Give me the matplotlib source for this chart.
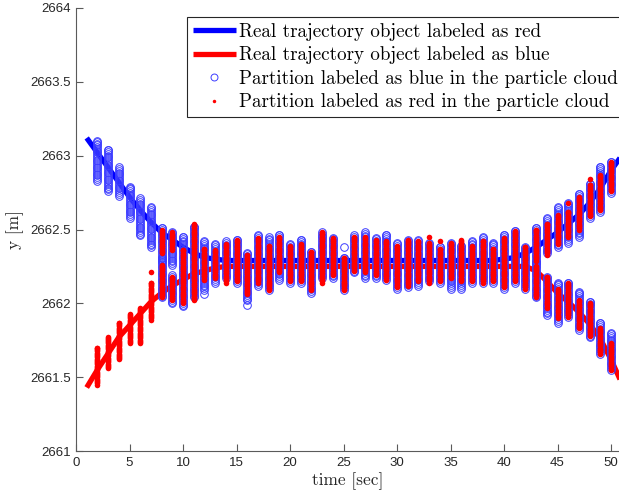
import matplotlib
matplotlib.use('Agg')
import matplotlib.pyplot as plt
import numpy as np

# ---------------- data ----------------
traj_t = list(range(1, 52))
blue_traj = [2663.12, 2663.02, 2662.92, 2662.82, 2662.72, 2662.63, 2662.55, 2662.48,
             2662.43, 2662.38, 2662.34, 2662.31, 2662.30] + [2662.29] * 26 + \
            [2662.30, 2662.31, 2662.34, 2662.38, 2662.43, 2662.48, 2662.54, 2662.60,
             2662.68, 2662.78, 2662.90, 2663.00]
red_traj = [2661.43, 2661.55, 2661.66, 2661.77, 2661.85, 2661.93, 2662.01, 2662.07,
            2662.12, 2662.16, 2662.20, 2662.22, 2662.24] + [2662.25] * 26 + \
           [2662.25, 2662.25, 2662.25, 2662.22, 2662.15, 2662.07, 2662.01, 2661.94,
            2661.86, 2661.76, 2661.62, 2661.46]

cloud_t = list(range(2, 51))
# vertical extents (lo, hi) of the particle columns at each time step
blue_clouds = [
    [(2662.83, 2663.10)], [(2662.76, 2663.04)], [(2662.73, 2662.92)], [(2662.58, 2662.79)],
    [(2662.46, 2662.71)], [(2662.38, 2662.65)],
    [(2662.28, 2662.51), (2662.04, 2662.31)], [(2662.26, 2662.48), (2662.00, 2662.19)],
    [(2661.98, 2662.45)], [(2662.04, 2662.52)], [(2662.09, 2662.42)], [(2662.14, 2662.40)],
    [(2662.17, 2662.42)], [(2662.14, 2662.43)], [(2662.02, 2662.34)], [(2662.12, 2662.46)],
    [(2662.09, 2662.45)], [(2662.16, 2662.46)], [(2662.14, 2662.40)], [(2662.14, 2662.43)],
    [(2662.07, 2662.35)], [(2662.17, 2662.48)], [(2662.17, 2662.44)], [(2662.09, 2662.31)],
    [(2662.21, 2662.46)], [(2662.17, 2662.48)], [(2662.17, 2662.44)], [(2662.16, 2662.46)],
    [(2662.10, 2662.41)], [(2662.11, 2662.43)], [(2662.12, 2662.43)], [(2662.15, 2662.41)],
    [(2662.14, 2662.38)], [(2662.10, 2662.41)], [(2662.10, 2662.39)], [(2662.14, 2662.42)],
    [(2662.14, 2662.45)], [(2662.14, 2662.41)], [(2662.10, 2662.46)], [(2662.14, 2662.49)],
    [(2662.10, 2662.38)],
    [(2662.27, 2662.51), (2662.04, 2662.28)], [(2662.34, 2662.58), (2661.92, 2662.18)],
    [(2662.38, 2662.65), (2661.87, 2662.14)], [(2662.41, 2662.68), (2661.91, 2662.14)],
    [(2662.45, 2662.74), (2661.82, 2662.08)], [(2662.58, 2662.81), (2661.77, 2662.01)],
    [(2662.62, 2662.92), (2661.66, 2661.87)], [(2662.75, 2662.96), (2661.55, 2661.80)],
]
red_clouds = [
    [(2661.45, 2661.70)], [(2661.56, 2661.77)], [(2661.62, 2661.87)], [(2661.73, 2661.93)],
    [(2661.73, 2661.97)], [(2661.89, 2662.14)],
    [(2662.34, 2662.50), (2662.04, 2662.26)], [(2662.36, 2662.48), (2662.02, 2662.18)],
    [(2662.00, 2662.36)], [(2662.02, 2662.54)], [(2662.16, 2662.37)], [(2662.17, 2662.36)],
    [(2662.14, 2662.40)], [(2662.15, 2662.43)], [(2662.06, 2662.33)], [(2662.14, 2662.44)],
    [(2662.09, 2662.39)], [(2662.21, 2662.45)], [(2662.15, 2662.39)], [(2662.15, 2662.40)],
    [(2662.09, 2662.35)], [(2662.14, 2662.48)], [(2662.19, 2662.44)], [(2662.09, 2662.31)],
    [(2662.22, 2662.45)], [(2662.21, 2662.45)], [(2662.19, 2662.43)], [(2662.16, 2662.42)],
    [(2662.11, 2662.39)], [(2662.12, 2662.43)], [(2662.15, 2662.42)], [(2662.14, 2662.41)],
    [(2662.15, 2662.37)], [(2662.17, 2662.41)], [(2662.15, 2662.43)], [(2662.15, 2662.39)],
    [(2662.14, 2662.42)], [(2662.15, 2662.37)], [(2662.11, 2662.44)], [(2662.15, 2662.49)],
    [(2662.10, 2662.38)],
    [(2662.29, 2662.50), (2662.04, 2662.25)], [(2662.33, 2662.54), (2661.97, 2662.18)],
    [(2662.40, 2662.60), (2661.90, 2662.10)], [(2662.45, 2662.62), (2661.91, 2662.14)],
    [(2662.50, 2662.72), (2661.83, 2662.02)], [(2662.59, 2662.80), (2661.78, 2662.00)],
    [(2662.63, 2662.87), (2661.66, 2661.83)], [(2662.76, 2662.96), (2661.55, 2661.73)],
]
extra_blue_t = [25, 16, 12]
extra_blue_y = [2662.38, 2661.99, 2662.06]
extra_red_t = [7, 33, 34, 46, 48]
extra_red_y = [2662.21, 2662.45, 2662.42, 2662.68, 2662.84]

x_ticks = [0, 5, 10, 15, 20, 25, 30, 35, 40, 45, 50]
y_ticks = [2661, 2661.5, 2662, 2662.5, 2663, 2663.5, 2664]
y_tick_labels = ['2661', '2661.5', '2662', '2662.5', '2663', '2663.5', '2664']

labels = ['Real trajectory object labeled as red',
          'Real trajectory object labeled as blue',
          'Partition labeled as blue in the particle cloud',
          'Partition labeled as red in the particle cloud']


def cloud_points(ts, clouds, step):
    xs, ys = [], []
    for t, segs in zip(ts, clouds):
        for lo, hi in segs:
            v = np.append(np.arange(lo, hi, step), hi)
            xs.extend([t] * len(v))
            ys.extend(v)
    return np.array(xs), np.array(ys)


bx, by = cloud_points(cloud_t, blue_clouds, 0.012)
rx, ry = cloud_points(cloud_t, red_clouds, 0.008)
bx = np.concatenate([bx, extra_blue_t]); by = np.concatenate([by, extra_blue_y])
rx = np.concatenate([rx, extra_red_t]); ry = np.concatenate([ry, extra_red_y])

# ---------------- figure ----------------
fig = plt.figure(figsize=(6.19, 4.96), dpi=100)
ax = fig.add_axes([76 / 619, 1 - 451 / 496, 1 - 76 / 619, 443 / 496])

l1, = ax.plot(traj_t, blue_traj, color='#0000ff', lw=3.8, solid_capstyle='butt', zorder=2)
l2, = ax.plot(traj_t, red_traj, color='#ff0000', lw=3.8, solid_capstyle='butt', zorder=2)
p1, = ax.plot(bx, by, 'o', mfc='none', mec='#3c3cff', mew=0.7, ms=5.5, zorder=3)
p2, = ax.plot(rx, ry, 'o', mfc='#ff0000', mec='#ff0000', mew=0, ms=4.0, zorder=4)

ax.set_xlim(0, (619 - 76) / 10.7)
ax.set_ylim(2661, 2664)
ax.set_xticks(x_ticks)
ax.set_yticks(y_ticks)
ax.set_yticklabels(y_tick_labels)

for s in ['top', 'right']:
    ax.spines[s].set_visible(False)
for s in ['left', 'bottom']:
    ax.spines[s].set_color('#5a5a5a')
    ax.spines[s].set_linewidth(0.8)
ax.tick_params(direction='in', length=5, width=0.8, color='#5a5a5a',
               labelcolor='#262626', labelsize=9.5, pad=4)
for lab in ax.get_xticklabels() + ax.get_yticklabels():
    lab.set_fontfamily('Liberation Sans')

ax.set_xlabel('time [sec]', fontfamily='cmr10', fontsize=12.5, color='#262626', labelpad=3)
ax.set_ylabel('y [m]', fontfamily='cmr10', fontsize=12.5, color='#262626', labelpad=4)

leg = fig.legend([l1, l2, p1, p2], labels, loc='upper left',
                 bbox_to_anchor=(187 / 619, 1 - 17 / 496), bbox_transform=fig.transFigure,
                 borderaxespad=0, prop={'family': 'cmr10', 'size': 13.7},
                 fancybox=False, framealpha=1, edgecolor='#262626',
                 handlelength=2.25, handletextpad=0.2, labelspacing=0.29,
                 borderpad=0.3)
leg.get_frame().set_linewidth(0.8)
hs = leg.legend_handles
hs[2].set_markersize(5)
hs[3].set_markersize(2.5)

fig.savefig('out.png', dpi=100)
